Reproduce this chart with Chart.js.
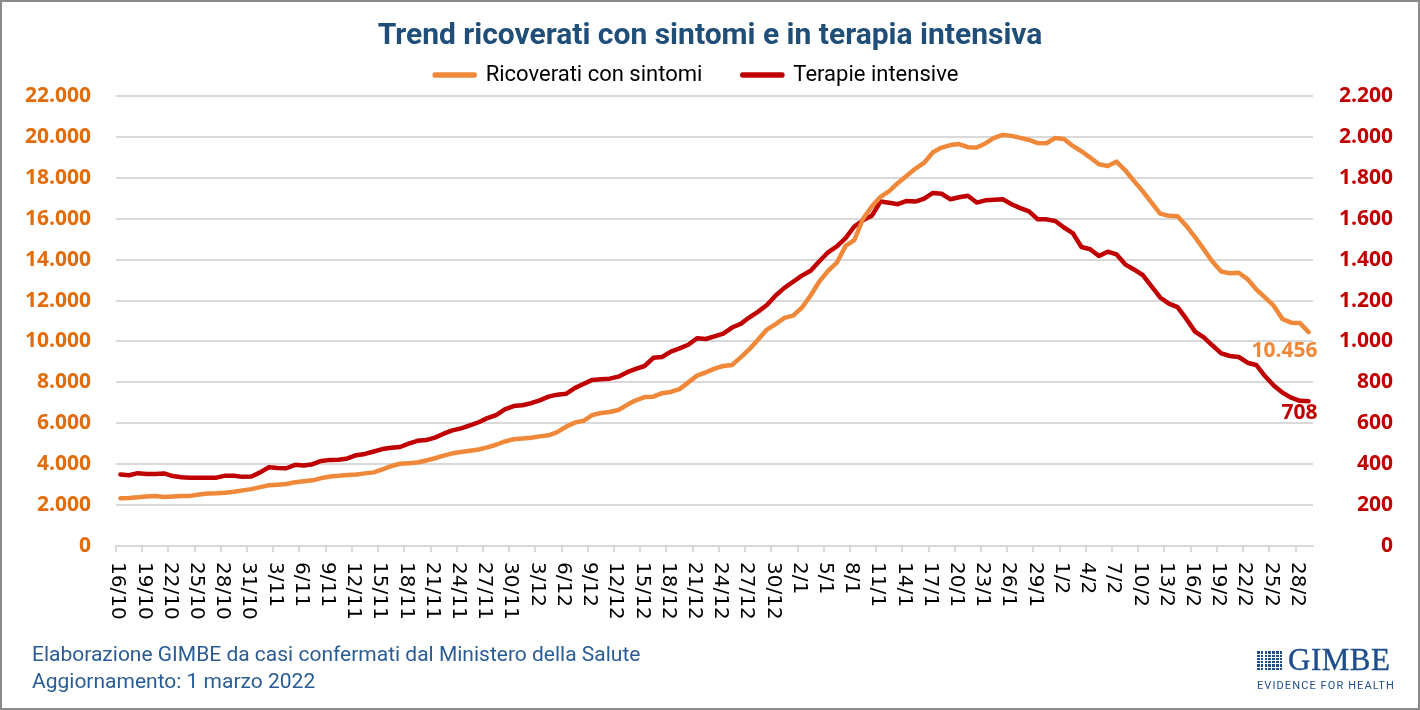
<!DOCTYPE html>
<html lang="it">
<head>
<meta charset="utf-8">
<title>Trend ricoverati con sintomi e in terapia intensiva</title>
<script src="https://cdn.jsdelivr.net/npm/chart.js@4.4.1/dist/chart.umd.min.js"></script>
<style>
  html, body { margin: 0; padding: 0; background: #fff; }
  #wrap { position: relative; width: 1420px; height: 710px; overflow: hidden; background: #fff; }
  #chart { position: absolute; left: 0; top: 0; }
  #frame { position: absolute; inset: 0; border: 2px solid #8a8a8a; box-sizing: border-box; pointer-events: none; }
  #title { position: absolute; left: 0; right: 0; top: 16px; line-height: 34px; text-align: center;
           font: bold 30px Roboto, sans-serif; color: #1F4E79; }
  .note { position: absolute; left: 32px; line-height: 26px; font: 21px Roboto, sans-serif; color: #2A5C96; }
  #logo { position: absolute; left: 1257px; top: 647px; color: #1F4E8C; }
  #logoTop { display: flex; align-items: center; height: 25px; }
  #logoIcon { width: 27px; height: 20px; margin-right: 4px; background-color: #1F4E8C;
              background-image: repeating-linear-gradient(90deg, transparent 0 2.7px, #fff 2.7px 3.8px),
                                repeating-linear-gradient(0deg, transparent 0 2.3px, #fff 2.3px 3.3px); }
  #logoName { font: 31px "Liberation Serif", serif; letter-spacing: 0.5px; line-height: 25px; -webkit-text-stroke: 0.4px #1F4E8C; }
  #logoSub { font: 11px Roboto, sans-serif; letter-spacing: 1.1px; margin-top: 7px; white-space: nowrap; }
</style>
</head>
<body>
<div id="wrap">
  <canvas id="chart" width="1420" height="710"></canvas>
  <div id="title">Trend ricoverati con sintomi e in terapia intensiva</div>
  <div class="note" style="top:642px">Elaborazione GIMBE da casi confermati dal Ministero della Salute</div>
  <div class="note" style="top:669px">Aggiornamento: 1 marzo 2022</div>
  <div id="logo">
    <div id="logoTop"><span id="logoIcon"></span><span id="logoName">GIMBE</span></div>
    <div id="logoSub">EVIDENCE FOR HEALTH</div>
  </div>
  <div id="frame"></div>
</div>
<script>
// dates 16/10/2021 -> 1/3/2022, one per day
const dateLabels = [
  '16/10','17/10','18/10','19/10','20/10','21/10','22/10','23/10','24/10','25/10','26/10','27/10','28/10','29/10','30/10','31/10',
  '1/11','2/11','3/11','4/11','5/11','6/11','7/11','8/11','9/11','10/11','11/11','12/11','13/11','14/11','15/11',
  '16/11','17/11','18/11','19/11','20/11','21/11','22/11','23/11','24/11','25/11','26/11','27/11','28/11','29/11','30/11',
  '1/12','2/12','3/12','4/12','5/12','6/12','7/12','8/12','9/12','10/12','11/12','12/12','13/12','14/12','15/12',
  '16/12','17/12','18/12','19/12','20/12','21/12','22/12','23/12','24/12','25/12','26/12','27/12','28/12','29/12','30/12','31/12',
  '1/1','2/1','3/1','4/1','5/1','6/1','7/1','8/1','9/1','10/1','11/1','12/1','13/1','14/1','15/1',
  '16/1','17/1','18/1','19/1','20/1','21/1','22/1','23/1','24/1','25/1','26/1','27/1','28/1','29/1','30/1','31/1',
  '1/2','2/2','3/2','4/2','5/2','6/2','7/2','8/2','9/2','10/2','11/2','12/2','13/2','14/2',
  '15/2','16/2','17/2','18/2','19/2','20/2','21/2','22/2','23/2','24/2','25/2','26/2','27/2','28/2',
  '1/3'
];

const ricoverati = [
  2330, 2350, 2380, 2420, 2440, 2400, 2420, 2440, 2450, 2520,
  2570, 2580, 2600, 2650, 2720, 2780, 2880, 2970, 3000, 3030,
  3120, 3170, 3210, 3320, 3400, 3430, 3470, 3500, 3550, 3600,
  3750, 3910, 4020, 4050, 4080, 4180, 4290, 4420, 4530, 4600,
  4660, 4720, 4820, 4950, 5110, 5220, 5250, 5290, 5360, 5410,
  5570, 5830, 6030, 6120, 6400, 6500, 6550, 6650, 6900, 7120,
  7280, 7300, 7470, 7530, 7670, 8000, 8330, 8490, 8670, 8800,
  8850, 9220, 9620, 10100, 10580, 10850, 11150, 11260, 11650, 12250,
  12930, 13450, 13850, 14670, 14950, 16000, 16600, 17070, 17350, 17750,
  18100, 18450, 18740, 19250, 19480, 19600, 19650, 19500, 19480, 19680,
  19950, 20100, 20050, 19950, 19850, 19700, 19690, 19950, 19900, 19560,
  19300, 18990, 18660, 18580, 18790, 18370, 17850, 17350, 16800, 16250,
  16140, 16120, 15650, 15100, 14500, 13900, 13420, 13330, 13360, 13050,
  12550, 12150, 11750, 11100, 10920, 10900, 10456
];

const terapie = [
  350, 346, 356, 352, 352, 355, 342, 336, 334, 334,
  334, 334, 344, 343, 338, 340, 360, 385, 381, 380,
  397, 394, 400, 416, 421, 422, 428, 444, 450, 462,
  474, 480, 484, 500, 514, 518, 530, 549, 565, 575,
  590, 605, 625, 640, 668, 684, 688, 698, 712, 730,
  740, 744, 772, 792, 812, 815, 818, 828, 850, 866,
  880, 920, 924, 950, 966, 984, 1016, 1012, 1025, 1038,
  1068, 1086, 1118, 1146, 1178, 1225, 1262, 1292, 1322, 1346,
  1392, 1436, 1465, 1505, 1562, 1592, 1614, 1684, 1678, 1671,
  1687, 1684, 1698, 1726, 1722, 1695, 1705, 1712, 1679, 1690,
  1693, 1695, 1671, 1652, 1636, 1597, 1597, 1589, 1557, 1530,
  1462, 1451, 1418, 1439, 1426, 1377, 1352, 1325, 1270, 1215,
  1185, 1168, 1110, 1048, 1020, 980, 942, 929, 924, 896,
  885, 831, 785, 750, 725, 710, 708
];

const ORANGE = '#F0883A';
const RED = '#C00000';
const GRID = '#d9d9d9';

// 22000 -> "22.000"
function fmt(v) {
  return String(v).replace(/\B(?=(\d{3})+(?!\d))/g, '.');
}

// rotated date labels, every 3 days, reading top to bottom
const xLabelPlugin = {
  id: 'xLabels',
  afterDraw(chart) {
    const xs = chart.scales.x;
    const ctx = chart.ctx;
    const step = xs.getPixelForTick(1) - xs.getPixelForTick(0);
    ctx.save();
    ctx.font = '20px "DejaVu Sans"';
    ctx.fillStyle = '#000';
    ctx.textAlign = 'left';
    ctx.textBaseline = 'middle';
    for (let i = 0; i < dateLabels.length; i += 3) {
      const px = xs.getPixelForTick(i) - step / 2 + 1.5;
      ctx.save();
      ctx.translate(px, xs.top + 16);
      ctx.rotate(Math.PI / 2);
      ctx.fillText(dateLabels[i], 0, 0);
      ctx.restore();
    }
    ctx.restore();
  }
};

// last value written next to the end of each line
const endLabelPlugin = {
  id: 'endLabels',
  afterDatasetsDraw(chart) {
    const ctx = chart.ctx;
    const last = dateLabels.length - 1;
    const specs = [
      { ds: 0, values: ricoverati, color: ORANGE, dy: 19 },
      { ds: 1, values: terapie, color: RED, dy: 12 }
    ];
    ctx.save();
    ctx.font = 'bold 21px "Open Sans"';
    ctx.textAlign = 'right';
    ctx.textBaseline = 'middle';
    specs.forEach(s => {
      const pt = chart.getDatasetMeta(s.ds).data[last];
      ctx.fillStyle = s.color;
      ctx.fillText(fmt(s.values[last]), pt.x + 9, pt.y + s.dy);
    });
    ctx.restore();
  }
};

Chart.defaults.font.family = 'Roboto, sans-serif';

new Chart(document.getElementById('chart'), {
  type: 'line',
  data: {
    labels: dateLabels,
    datasets: [
      {
        label: 'Ricoverati con sintomi',
        data: ricoverati,
        yAxisID: 'y',
        borderColor: ORANGE,
        backgroundColor: ORANGE,
        borderWidth: 4.5,
        borderCapStyle: 'round',
        borderJoinStyle: 'round',
        pointRadius: 0,
        tension: 0
      },
      {
        label: 'Terapie intensive',
        data: terapie,
        yAxisID: 'y2',
        borderColor: RED,
        backgroundColor: RED,
        borderWidth: 4.5,
        borderCapStyle: 'round',
        borderJoinStyle: 'round',
        pointRadius: 0,
        tension: 0
      }
    ]
  },
  options: {
    responsive: false,
    animation: false,
    layout: { padding: { top: 24, right: 27, left: 0, bottom: 0 } },
    plugins: {
      legend: {
        position: 'top',
        labels: {
          color: '#000',
          font: { size: 22 },
          boxWidth: 40,
          boxHeight: 1,
          padding: 40
        }
      },
      tooltip: { enabled: false }
    },
    scales: {
      x: {
        offset: true,
        grid: {
          offset: true,
          drawOnChartArea: false,
          drawTicks: true,
          tickLength: 6,
          lineWidth: 2,
          color: ctx => (ctx.index % 3 === 0 ? GRID : 'transparent'),
          tickColor: ctx => (ctx.index % 3 === 0 ? GRID : 'transparent')
        },
        border: { color: GRID, width: 2 },
        ticks: { display: false, autoSkip: false },
        afterFit: s => { s.height = 164; }
      },
      y: {
        position: 'left',
        min: 0,
        max: 22000,
        grid: { color: GRID, lineWidth: 2, drawTicks: false },
        border: { display: false },
        ticks: {
          stepSize: 2000,
          padding: 25,
          color: '#E36C0A',
          font: { family: '"Open Sans"', size: 21, weight: 'bold' },
          callback: v => fmt(v)
        },
        afterFit: s => { s.width = 116; }
      },
      y2: {
        position: 'right',
        min: 0,
        max: 2200,
        grid: { drawOnChartArea: false, drawTicks: false },
        border: { display: false },
        ticks: {
          stepSize: 200,
          crossAlign: 'far',
          color: RED,
          font: { family: '"Open Sans"', size: 21, weight: 'bold' },
          callback: v => fmt(v)
        },
        afterFit: s => { s.width = 80; }
      }
    }
  },
  plugins: [xLabelPlugin, endLabelPlugin]
});
</script>
</body>
</html>
